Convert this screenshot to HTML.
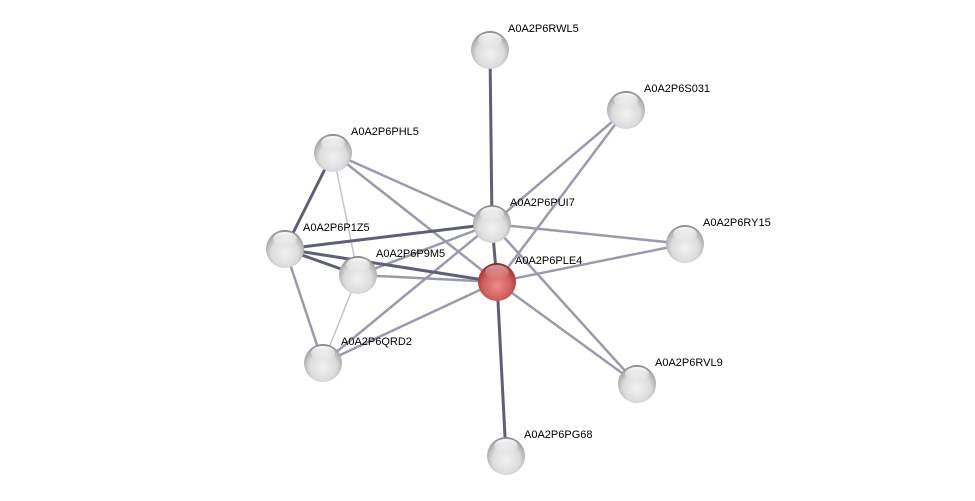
<!DOCTYPE html>
<html><head><meta charset="utf-8"><style>
html,body{margin:0;padding:0;background:#fff;}
svg{display:block}
text{font-family:"Liberation Sans",sans-serif;font-size:11px;fill:#000;}
</style></head><body>
<svg width="975" height="501" viewBox="0 0 975 501" xmlns="http://www.w3.org/2000/svg">
<defs>
<radialGradient id="g" cx="0.5" cy="0.6" r="0.6">
<stop offset="0" stop-color="#f2f2f2"/><stop offset="0.6" stop-color="#dcdcdc"/><stop offset="0.9" stop-color="#a8a8a8"/><stop offset="1" stop-color="#7a7a7a"/>
</radialGradient>
<radialGradient id="r" cx="0.5" cy="0.6" r="0.6">
<stop offset="0" stop-color="#f08a8a"/><stop offset="0.6" stop-color="#d06060"/><stop offset="0.9" stop-color="#a83a3a"/><stop offset="1" stop-color="#7a1a1a"/>
</radialGradient>
<linearGradient id="h" x1="0" y1="0" x2="0" y2="1">
<stop offset="0" stop-color="#fff" stop-opacity="0.95"/><stop offset="1" stop-color="#fff" stop-opacity="0"/>
</linearGradient>
</defs>
<g stroke-linecap="round">
<line x1="333" y1="153" x2="358" y2="275" stroke="#c4c4d0" stroke-width="1.5"/>
<line x1="358" y1="275" x2="323" y2="363" stroke="#c4c4d0" stroke-width="1.5"/>
<g stroke="#9a9aae" stroke-width="2.5">
<line x1="626" y1="110" x2="492" y2="224"/>
<line x1="626" y1="110" x2="497" y2="282"/>
<line x1="333" y1="153" x2="492" y2="224"/>
<line x1="333" y1="153" x2="497" y2="282"/>
<line x1="492" y1="224" x2="685" y2="244"/>
<line x1="492" y1="224" x2="637" y2="384"/>
<line x1="492" y1="224" x2="358" y2="275"/>
<line x1="492" y1="224" x2="323" y2="363"/>
<line x1="497" y1="282" x2="685" y2="244"/>
<line x1="497" y1="282" x2="637" y2="384"/>
<line x1="497" y1="282" x2="358" y2="275"/>
<line x1="497" y1="282" x2="323" y2="363"/>
<line x1="285" y1="249" x2="323" y2="363"/>
</g>
<g stroke="#5e6078" stroke-width="3">
<line x1="490" y1="50" x2="492" y2="224"/>
<line x1="492" y1="224" x2="497" y2="282"/>
<line x1="497" y1="282" x2="506" y2="456"/>
<line x1="333" y1="153" x2="285" y2="249"/>
<line x1="285" y1="249" x2="492" y2="224"/>
<line x1="285" y1="249" x2="497" y2="282"/>
<line x1="285" y1="249" x2="358" y2="275"/>
</g>
</g>
<g id="nodes">
<g transform="translate(490,50)"><circle r="19" fill="url(#g)"/><ellipse cy="-10" rx="12" ry="7" fill="url(#h)"/></g>
<g transform="translate(626,110)"><circle r="19" fill="url(#g)"/><ellipse cy="-10" rx="12" ry="7" fill="url(#h)"/></g>
<g transform="translate(333,153)"><circle r="19" fill="url(#g)"/><ellipse cy="-10" rx="12" ry="7" fill="url(#h)"/></g>
<g transform="translate(492,224)"><circle r="19" fill="url(#g)"/><ellipse cy="-10" rx="12" ry="7" fill="url(#h)"/></g>
<g transform="translate(685,244)"><circle r="19" fill="url(#g)"/><ellipse cy="-10" rx="12" ry="7" fill="url(#h)"/></g>
<g transform="translate(285,249)"><circle r="19" fill="url(#g)"/><ellipse cy="-10" rx="12" ry="7" fill="url(#h)"/></g>
<g transform="translate(358,275)"><circle r="19" fill="url(#g)"/><ellipse cy="-10" rx="12" ry="7" fill="url(#h)"/></g>
<g transform="translate(497,282)"><circle r="19" fill="url(#r)"/><ellipse cy="-10" rx="12" ry="7" fill="url(#h)" opacity="0.5"/></g>
<g transform="translate(323,363)"><circle r="19" fill="url(#g)"/><ellipse cy="-10" rx="12" ry="7" fill="url(#h)"/></g>
<g transform="translate(637,384)"><circle r="19" fill="url(#g)"/><ellipse cy="-10" rx="12" ry="7" fill="url(#h)"/></g>
<g transform="translate(506,456)"><circle r="19" fill="url(#g)"/><ellipse cy="-10" rx="12" ry="7" fill="url(#h)"/></g>
</g>
<text x="508" y="32">A0A2P6RWL5</text>
<text x="644" y="92">A0A2P6S031</text>
<text x="351" y="135">A0A2P6PHL5</text>
<text x="510" y="206">A0A2P6PUI7</text>
<text x="703" y="226">A0A2P6RY15</text>
<text x="303" y="231">A0A2P6P1Z5</text>
<text x="376" y="257">A0A2P6P9M5</text>
<text x="515" y="264">A0A2P6PLE4</text>
<text x="341" y="345">A0A2P6QRD2</text>
<text x="655" y="366">A0A2P6RVL9</text>
<text x="524" y="438">A0A2P6PG68</text>
</svg>
</body></html>
